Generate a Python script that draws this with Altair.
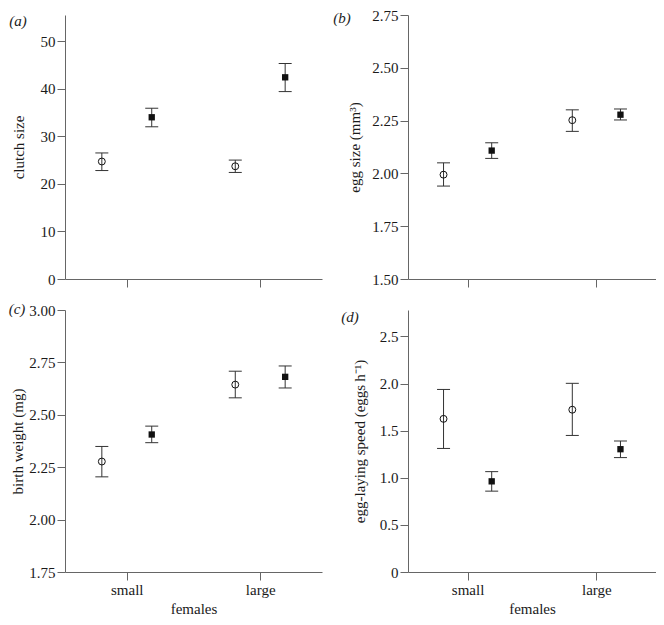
import altair as alt
import pandas as pd

females = ["small", "large"]
panel_labels = ["(a)", "(b)", "(c)", "(d)"]
y_titles = ["clutch size", "egg size (mm\u00b3)", "birth weight (mg)", "egg-laying speed (eggs\u2009h\u207b\u00b9)"]

# (a) clutch size
clutch_open_mean = [24.7, 23.7]
clutch_open_lo = [22.8, 22.4]
clutch_open_hi = [26.5, 25.0]
clutch_filled_mean = [34.0, 42.4]
clutch_filled_lo = [32.0, 39.4]
clutch_filled_hi = [35.9, 45.3]

# (b) egg size
egg_open_mean = [1.994, 2.252]
egg_open_lo = [1.940, 2.199]
egg_open_hi = [2.050, 2.301]
egg_filled_mean = [2.108, 2.278]
egg_filled_lo = [2.071, 2.253]
egg_filled_hi = [2.145, 2.305]

# (c) birth weight
birth_open_mean = [2.277, 2.644]
birth_open_lo = [2.204, 2.581]
birth_open_hi = [2.349, 2.708]
birth_filled_mean = [2.406, 2.681]
birth_filled_lo = [2.367, 2.628]
birth_filled_hi = [2.446, 2.733]

# (d) egg-laying speed
speed_open_mean = [1.625, 1.722]
speed_open_lo = [1.311, 1.449]
speed_open_hi = [1.937, 2.002]
speed_filled_mean = [0.962, 1.303]
speed_filled_lo = [0.858, 1.214]
speed_filled_hi = [1.065, 1.390]

# y ticks
clutch_ticks = [0, 10, 20, 30, 40, 50]
egg_ticks = [1.50, 1.75, 2.00, 2.25, 2.50, 2.75]
birth_ticks = [1.75, 2.00, 2.25, 2.50, 2.75, 3.00]
speed_ticks = [0, 0.5, 1.0, 1.5, 2.0, 2.5]

FONT = "Liberation Serif"
INK = "#111111"
BAR = "#333333"


def panel_df(om, ol, oh, fm, fl, fh):
    rows = []
    for i, f in enumerate(females):
        rows.append(dict(female=f, treatment="open", mean=om[i], lo=ol[i], hi=oh[i]))
        rows.append(dict(female=f, treatment="filled", mean=fm[i], lo=fl[i], hi=fh[i]))
    return pd.DataFrame(rows)


def panel(df, label, ytitle, ydomain, yvalues, label_expr, title_x, lab_xy,
          width, height, bottom):
    base = alt.Chart(df).transform_calculate(
        pos="(datum.female == 'small' ? 1 : 2) + (datum.treatment == 'open' ? -0.187 : 0.187)"
    )
    xkw = dict(values=[1, 2], labelExpr="datum.value == 1 ? 'small' : 'large'",
               labels=bottom)
    if bottom:
        xkw["title"] = "females"
    else:
        xkw["title"] = None
    xenc = alt.X("pos:Q", scale=alt.Scale(domain=[0.537, 2.463], nice=False, zero=False),
                 axis=alt.Axis(**xkw))

    def yenc(field):
        return alt.Y(field, scale=alt.Scale(domain=ydomain, nice=False, zero=False),
                     axis=alt.Axis(title=ytitle, values=yvalues, labelExpr=label_expr,
                                   titleX=title_x, titleBaseline="middle"))

    rule = base.mark_rule(color=BAR, strokeWidth=1).encode(x=xenc, y=yenc("lo:Q"), y2="hi:Q")
    cap_hi = base.mark_tick(orient="horizontal", size=13, thickness=1, color=BAR, opacity=1).encode(
        x=xenc, y=yenc("hi:Q"))
    cap_lo = base.mark_tick(orient="horizontal", size=13, thickness=1, color=BAR, opacity=1).encode(
        x=xenc, y=yenc("lo:Q"))
    circ = base.transform_filter("datum.treatment == 'open'").mark_point(
        shape="circle", filled=False, size=48, color=INK, strokeWidth=1, opacity=1
    ).encode(x=xenc, y=yenc("mean:Q"))
    sq = base.transform_filter("datum.treatment == 'filled'").mark_square(
        size=40, color=INK, opacity=1
    ).encode(x=xenc, y=yenc("mean:Q"))
    txt = alt.Chart(pd.DataFrame({"t": [label]})).mark_text(
        font=FONT, fontSize=15, fontStyle="italic", align="center", baseline="middle", color="#222"
    ).encode(text="t:N", x=alt.value(lab_xy[0]), y=alt.value(lab_xy[1]))
    return alt.layer(rule, cap_hi, cap_lo, circ, sq, txt).properties(width=width, height=height)


fmt2 = "format(datum.value, '.2f')"
fmt_d = "datum.value == 0 ? '0' : format(datum.value, '.1f')"

pa = panel(panel_df(clutch_open_mean, clutch_open_lo, clutch_open_hi,
                    clutch_filled_mean, clutch_filled_lo, clutch_filled_hi),
           panel_labels[0], y_titles[0], [0, 55.5], clutch_ticks, "format(datum.value, 'd')",
           -47, (-47, 6), 257, 264, False)
pb = panel(panel_df(egg_open_mean, egg_open_lo, egg_open_hi,
                    egg_filled_mean, egg_filled_lo, egg_filled_hi),
           panel_labels[1], y_titles[1], [1.5, 2.75], egg_ticks, fmt2,
           -54, (-66, 3), 248, 264, False)
pc = panel(panel_df(birth_open_mean, birth_open_lo, birth_open_hi,
                    birth_filled_mean, birth_filled_lo, birth_filled_hi),
           panel_labels[2], y_titles[2], [1.75, 3.0], birth_ticks, fmt2,
           -48, (-48, -1), 257, 262, True)
pd_ = panel(panel_df(speed_open_mean, speed_open_lo, speed_open_hi,
                     speed_filled_mean, speed_filled_lo, speed_filled_hi),
            panel_labels[3], y_titles[3], [0, 2.78], speed_ticks, fmt_d,
            -49, (-58, 7), 248, 262, True)

chart = alt.concat(pa, pb, pc, pd_, columns=2, spacing={"row": 31, "column": 86},
                   bounds="flush").properties(padding=0).configure_view(
    stroke=None
).configure_axis(
    grid=False,
    labelFont=FONT, titleFont=FONT,
    labelFontSize=15, titleFontSize=15, titleFontWeight="normal",
    labelColor="#1a1a1a", titleColor="#1a1a1a",
    domainColor="#666", tickColor="#666",
    domainWidth=1, tickWidth=1, tickSize=8, labelPadding=2, titlePadding=4,
)

chart.save("out.html", embed_options={"renderer": "svg", "actions": False})
